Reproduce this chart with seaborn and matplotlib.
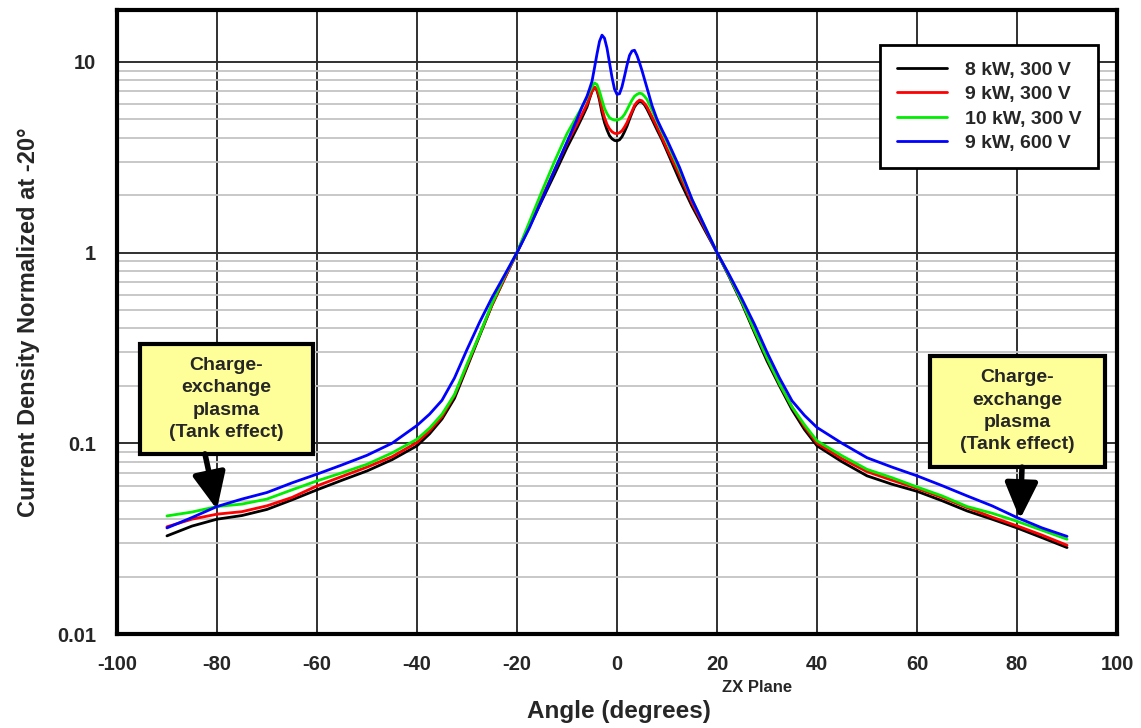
import numpy as np
import pandas as pd
import matplotlib
matplotlib.use("Agg")
import matplotlib.pyplot as plt
import seaborn as sns
from matplotlib.patches import Rectangle
from matplotlib.ticker import FixedLocator, LogLocator, NullFormatter

# ---------------- data ----------------
angles = [-90, -85, -80, -75, -70, -65, -60, -55, -50, -45, -40,
          -37.5, -35, -32.5, -30, -27.5, -25, -22.5, -20, -17.5, -15, -12.5, -10,
          -8, -7, -6,
          -5.5, -5, -4.5, -4, -3.5, -3, -2.5, -2, -1.5, -1, -0.5, 0,
          0.5, 1, 1.5, 2, 2.5, 3, 3.5, 4, 4.5, 5, 5.5, 6,
          7, 8, 9, 10,
          12.5, 15, 17.5, 20, 22.5, 25, 27.5, 30, 32.5, 35, 37.5, 40,
          45, 50, 55, 60, 65, 70, 75, 80, 85, 90]

kw8_300 = [0.0327, 0.0368, 0.040, 0.0418, 0.045, 0.0505, 0.057, 0.064, 0.0716, 0.082, 0.097,
           0.112, 0.134, 0.172, 0.25, 0.365, 0.53, 0.73, 1.0, 1.37, 1.88, 2.57, 3.55,
           4.5, 5.1, 5.8,
           6.4, 7.0, 7.35, 7.1, 6.3, 5.4, 4.8, 4.4, 4.1, 3.95, 3.87, 3.85,
           3.9, 4.05, 4.3, 4.6, 5.0, 5.4, 5.8, 6.05, 6.2, 6.15, 5.95, 5.65,
           5.0, 4.4, 3.9, 3.4,
           2.4, 1.75, 1.32, 1.0, 0.74, 0.54, 0.38, 0.27, 0.2, 0.15, 0.118, 0.097,
           0.08, 0.0675, 0.061, 0.056, 0.05, 0.0442, 0.040, 0.036, 0.032, 0.0284]

kw9_300 = [0.0365, 0.040, 0.0425, 0.0438, 0.047, 0.052, 0.0598, 0.067, 0.075, 0.085, 0.101,
           0.116, 0.138, 0.178, 0.255, 0.37, 0.53, 0.73, 1.0, 1.4, 1.95, 2.7, 3.75,
           4.7, 5.3, 6.0,
           6.5, 7.0, 7.35, 7.15, 6.5, 5.7, 5.1, 4.7, 4.45, 4.3, 4.22, 4.2,
           4.25, 4.35, 4.55, 4.8, 5.15, 5.5, 5.9, 6.15, 6.3, 6.25, 6.05, 5.8,
           5.15, 4.55, 4.0, 3.5,
           2.55, 1.82, 1.35, 1.0, 0.75, 0.55, 0.39, 0.28, 0.205, 0.155, 0.122, 0.1,
           0.083, 0.071, 0.064, 0.058, 0.052, 0.046, 0.041, 0.0369, 0.033, 0.0292]

kw10_300 = [0.0416, 0.0436, 0.0466, 0.048, 0.051, 0.057, 0.0635, 0.070, 0.0776, 0.089, 0.105,
            0.12, 0.142, 0.18, 0.26, 0.37, 0.54, 0.75, 1.0, 1.45, 2.1, 3.0, 4.2,
            5.2, 5.8, 6.5,
            7.0, 7.4, 7.75, 7.6, 7.0, 6.3, 5.7, 5.35, 5.1, 5.0, 4.95, 4.95,
            5.0, 5.1, 5.3, 5.6, 5.95, 6.3, 6.6, 6.75, 6.85, 6.8, 6.6, 6.35,
            5.6, 4.9, 4.3, 3.8,
            2.7, 1.9, 1.38, 1.0, 0.75, 0.55, 0.39, 0.28, 0.205, 0.155, 0.125, 0.103,
            0.086, 0.073, 0.066, 0.059, 0.053, 0.0466, 0.043, 0.039, 0.035, 0.0314]

kw9_600 = [0.036, 0.0408, 0.0466, 0.051, 0.0552, 0.062, 0.0689, 0.077, 0.0865, 0.10, 0.124,
           0.142, 0.168, 0.22, 0.31, 0.43, 0.58, 0.76, 1.0, 1.35, 1.9, 2.7, 3.8,
           5.0, 5.8, 6.6,
           7.2, 7.9, 9.3, 11.0, 12.8, 13.8, 13.3, 11.8, 9.9, 8.3, 7.2, 6.75,
           6.8, 7.4, 8.4, 9.6, 10.8, 11.4, 11.5, 10.8, 9.9, 9.0, 8.1, 7.3,
           5.9, 5.0, 4.4, 3.9,
           2.8, 1.9, 1.38, 1.0, 0.76, 0.57, 0.42, 0.3, 0.22, 0.167, 0.14, 0.121,
           0.1, 0.084, 0.075, 0.0675, 0.06, 0.053, 0.047, 0.0408, 0.036, 0.0325]

series_names = ["8 kW, 300 V", "9 kW, 300 V", "10 kW, 300 V", "9 kW, 600 V"]
series_colors = ["#000000", "#FF0000", "#00EE00", "#0000FF"]

x_ticks = [-100, -80, -60, -40, -20, 0, 20, 40, 60, 80, 100]
y_ticks = [0.01, 0.1, 1, 10]
y_tick_labels = ["0.01", "0.1", "1", "10"]

rows = []
for name, vals in zip(series_names, [kw8_300, kw9_300, kw10_300, kw9_600]):
    for a, v in zip(angles, vals):
        rows.append({"Angle": a, "Value": v, "Series": name})
df = pd.DataFrame(rows)

# ---------------- style ----------------
sns.set_style("white")
plt.rcParams['font.family'] = ['Liberation Sans', 'DejaVu Sans']
plt.rcParams['font.weight'] = 'bold'

fig = plt.figure(figsize=(11.41, 7.28), dpi=100)
ax = fig.add_axes([0.1025, 0.1291, 0.8765, 0.8572])

ax.set_yscale("log")
ax.set_xlim(-100, 100)
ax.set_ylim(0.01, 18.7)

# grid
ax.yaxis.set_minor_locator(LogLocator(base=10, subs=np.arange(2, 10)))
ax.yaxis.set_minor_formatter(NullFormatter())
ax.grid(which="minor", axis="y", color="#c4c4c4", lw=1.3, zorder=0)
ax.grid(which="major", axis="y", color="#303030", lw=1.4, zorder=0)
ax.grid(which="major", axis="x", color="#303030", lw=1.4, zorder=0)

sns.lineplot(data=df, x="Angle", y="Value", hue="Series", hue_order=series_names,
             palette=series_colors, lw=2.0, ax=ax, sort=False, estimator=None,
             zorder=3)

ax.set_xticks(x_ticks)
ax.set_xticklabels([str(t) for t in x_ticks])
ax.yaxis.set_major_locator(FixedLocator(y_ticks))
ax.set_yticklabels(y_tick_labels)
ax.tick_params(axis="both", which="major", direction="out", length=8, width=1.5,
               labelsize=14.5, color="black", pad=7)
ax.tick_params(axis="y", which="minor", length=0)
for lab in ax.get_xticklabels() + ax.get_yticklabels():
    lab.set_fontweight("bold")

for sp in ax.spines.values():
    sp.set_visible(True)
    sp.set_linewidth(3)
    sp.set_color("black")

ax.set_xlabel("")
ax.set_ylabel("Current Density Normalized at -20°", fontsize=17, fontweight="bold")
ax.yaxis.set_label_coords(-0.077, 0.5)
fig.text(0.5425, 0.014, "Angle (degrees)", fontsize=17.5, fontweight="bold",
         ha="center", va="baseline")
fig.text(0.633, 0.0495, "ZX Plane", fontsize=12, fontweight="bold",
         ha="left", va="baseline")

# legend
leg = ax.legend(loc="upper right", bbox_to_anchor=(0.981, 0.944), borderaxespad=0,
                frameon=True, fancybox=False, handlelength=2.6,
                labelspacing=0.34, borderpad=0.85, handletextpad=0.9,
                prop={"weight": "bold", "size": 14})
leg.get_frame().set_edgecolor("black")
leg.get_frame().set_linewidth(2)
leg.get_frame().set_alpha(1)
for line in leg.get_lines():
    line.set_linewidth(2)

# annotation boxes
box_text = "Charge-\nexchange\nplasma\n(Tank effect)"
for (x0, y0, w, h) in [(0.023, 0.288, 0.173, 0.177), (0.813, 0.268, 0.175, 0.178)]:
    ax.add_patch(Rectangle((x0, y0), w, h, transform=ax.transAxes, facecolor="#FFFF99",
                           edgecolor="black", lw=3, zorder=5))
    ax.text(x0 + w / 2, y0 + h / 2, box_text, transform=ax.transAxes, ha="center",
            va="center", fontsize=14, fontweight="bold", linespacing=1.4, zorder=6)

arrow_kw = dict(arrowstyle="-|>,head_length=2.2,head_width=1.0", color="black",
                lw=4, shrinkA=0, shrinkB=0)
ax.annotate("", xy=(-80, 0.045), xytext=(-82.4, 0.088), arrowprops=arrow_kw, zorder=6)
ax.annotate("", xy=(80.6, 0.040), xytext=(81.0, 0.075), arrowprops=arrow_kw, zorder=6)

fig.savefig("out.png", dpi=100)
